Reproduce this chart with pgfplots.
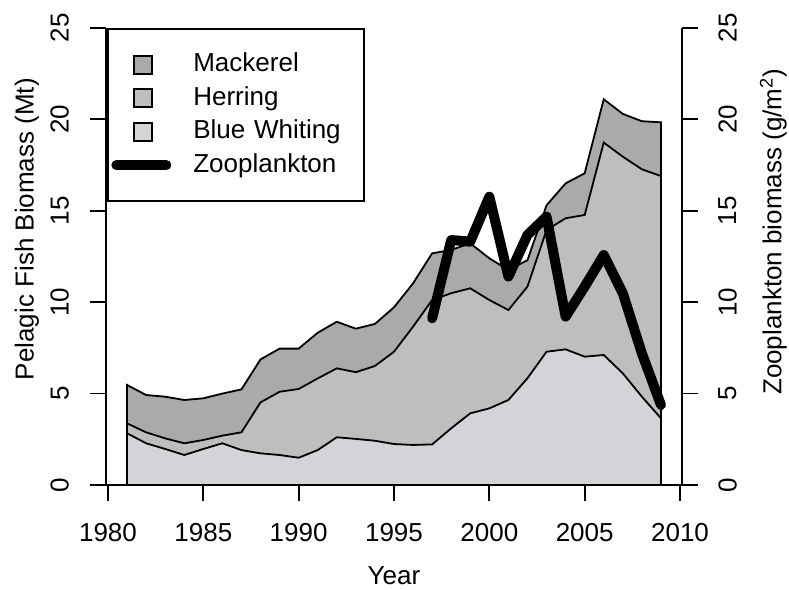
\documentclass[border=0pt]{standalone}
\usepackage{fontspec}
\setmainfont{Liberation Sans}
\usepackage{pgfplots}
\usepackage{pgfplotstable}
\pgfplotsset{compat=1.18}
\definecolor{mack}{RGB}{170,169,172}
\definecolor{herr}{RGB}{190,190,190}
\definecolor{bwc}{RGB}{212,211,215}

\pgfplotstableread{
year bw her tot
1981 2.83 3.37 5.47
1982 2.28 2.88 4.92
1983 1.97 2.55 4.83
1984 1.64 2.28 4.65
1985 1.97 2.46 4.74
1986 2.28 2.70 5.00
1987 1.91 2.88 5.23
1988 1.73 4.52 6.87
1989 1.64 5.10 7.46
1990 1.49 5.25 7.46
1991 1.91 5.83 8.33
1992 2.61 6.38 8.93
1993 2.52 6.17 8.55
1994 2.42 6.51 8.81
1995 2.24 7.29 9.72
1996 2.19 8.66 11.03
1997 2.22 10.12 12.67
1998 3.10 10.49 12.86
1999 3.92 10.76 13.22
2000 4.19 10.12 12.40
2001 4.65 9.57 11.76
2002 5.84 10.85 12.30
2003 7.29 13.95 15.30
2004 7.42 14.59 16.50
2005 7.02 14.77 17.05
2006 7.11 18.73 21.10
2007 6.11 17.96 20.30
2008 4.83 17.27 19.90
2009 3.65 16.90 19.84
}\fish

\pgfplotstableread{
year z
1997 9.12
1998 13.40
1999 13.31
2000 15.77
2001 11.40
2002 13.68
2003 14.68
2004 9.21
2005 10.85
2006 12.58
2007 10.49
2008 7.20
2009 4.38
}\zoo

\begin{document}
\fontsize{13}{15}\selectfont
\begin{tikzpicture}
\pgfplotsset{
  common/.style={
    scale only axis, width=288.3pt, height=228.5pt,
    xmin=1979.88, xmax=2010.12, ymin=0, ymax=25,
    tick align=outside, major tick length=8pt,
    axis line style={-, line width=0.9pt},
    every tick/.style={black, line width=0.9pt},
    /pgf/number format/assume math mode=true,
    /pgf/number format/1000 sep={},
    tick label style={font=\fontsize{13}{15}\selectfont},
    label style={font=\fontsize{13}{15}\selectfont},
    ytick={0,5,...,25},
  }
}
\begin{axis}[common, name=ax,
  axis x line*=bottom, axis y line*=left,
  xtick={1980,1985,...,2010},
  xticklabel style={yshift=-6.5pt},
  yticklabel style={xshift=-10.5pt, rotate=90, anchor=base},
  xlabel={Year},
  ylabel={Pelagic Fish Biomass (Mt)},
  xlabel style={at={(axis description cs:0.5,-0.199)}, anchor=center},
  ylabel style={at={(axis description cs:-0.1365,0.56)}, anchor=center},
  legend cell align=left,
  legend style={at={(axis description cs:0.003,1)}, anchor=north west,
    draw=black, line width=0.9pt, inner xsep=1.5pt, inner ysep=12pt,
    row sep=4.7pt, column sep=11pt, font=\fontsize{13}{15}\selectfont,
    nodes={inner sep=0pt, text height=9.5pt, text depth=2.5pt,
      text width=84pt, align=left, anchor=west}},
]
\addplot[forget plot, draw=black, line width=0.9pt, fill=mack] table[x=year,y=tot]{\fish} \closedcycle;
\addplot[forget plot, draw=black, line width=0.9pt, fill=herr] table[x=year,y=her]{\fish} \closedcycle;
\addplot[forget plot, draw=black, line width=0.9pt, fill=bwc] table[x=year,y=bw]{\fish} \closedcycle;

\addlegendimage{legend image code/.code={\path[draw=none,fill=none] (0pt,-4.5pt) rectangle (30pt,4.5pt); \draw[black, fill=mack, line width=0.9pt] (11.5pt,-4.5pt) rectangle (20.5pt,4.5pt);}}
\addlegendentry{Mackerel}
\addlegendimage{legend image code/.code={\path[draw=none,fill=none] (0pt,-4.5pt) rectangle (30pt,4.5pt); \draw[black, fill=herr, line width=0.9pt] (11.5pt,-4.5pt) rectangle (20.5pt,4.5pt);}}
\addlegendentry{Herring}
\addlegendimage{legend image code/.code={\path[draw=none,fill=none] (0pt,-4.5pt) rectangle (30pt,4.5pt); \draw[black, fill=bwc, line width=0.9pt] (11.5pt,-4.5pt) rectangle (20.5pt,4.5pt);}}
\addlegendentry{Blue Whiting}
\addlegendimage{legend image code/.code={\path[draw=none,fill=none] (0pt,-4.5pt) rectangle (30pt,4.5pt); \draw[black, line width=5pt, line cap=round] (2.5pt,0pt) -- (27.5pt,0pt);}}
\addlegendentry{Zooplankton}
\end{axis}

\begin{axis}[common,
  axis y line*=right, axis x line=none,
  yticklabel style={xshift=5.5pt, rotate=90, anchor=north},
  ylabel={Zooplankton biomass (g/m\textsuperscript{2})},
  ylabel style={at={(axis description cs:1.158,0.554)}, anchor=center},
]
\addplot[black, line width=5pt, line join=round, line cap=round] table[x=year,y=z]{\zoo};
\end{axis}

\pgfresetboundingbox
\path[use as bounding box] ([xshift=-52.85pt,yshift=-52.5pt]ax.south west) rectangle ([xshift=53.35pt,yshift=14pt]ax.north east);
\end{tikzpicture}
\end{document}
